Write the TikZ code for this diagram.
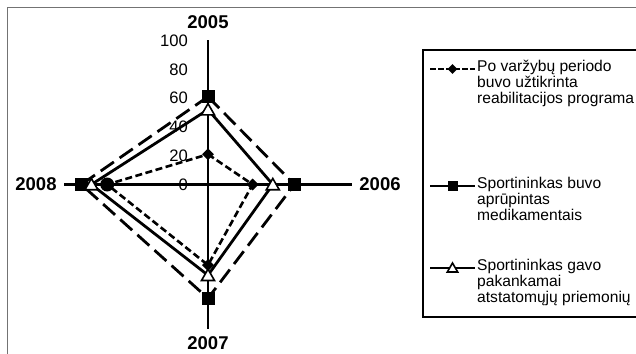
\documentclass[tikz,border=0pt]{standalone}
\usepackage{fontspec}
\setmainfont{Liberation Sans}
\usetikzlibrary{shapes.geometric,calc}
\colorlet{penColor}{black}
\colorlet{frameColor}{black!55}
\tikzset{
  axisline/.style={penColor,line width=2.5pt},
  seriesA/.style={penColor,line width=2.6pt,dash pattern=on 7pt off 3.5pt},
  seriesB/.style={penColor,line width=2.8pt,dash pattern=on 16pt off 7pt},
  seriesC/.style={penColor,line width=2.8pt},
  legline/.style={penColor,line width=2.6pt},
  dmark/.style={diamond,fill=penColor,inner sep=0pt,minimum size=#1},
  dmark/.default=12pt,
  cmark/.style={circle,fill=penColor,inner sep=0pt,minimum size=14pt},
  qmark/.style={rectangle,fill=penColor,inner sep=0pt,minimum size=#1},
  qmark/.default=13pt,
  tmark/.style={regular polygon,regular polygon sides=3,draw=penColor,fill=white,
    line width=1.6pt,inner sep=0pt,minimum size=#1},
  tmark/.default=15pt,
  ticklabel/.style={anchor=east,inner sep=0pt,font=\fontsize{16.6}{18}\selectfont},
  yearlabel/.style={inner sep=0pt,font=\fontsize{18.5}{20}\selectfont\bfseries},
  legendtext/.style={anchor=north west,inner sep=0pt,align=left,
    font=\fontsize{15.6}{16.4}\selectfont}
}
\begin{document}
\begin{tikzpicture}[x=1pt,y=-1pt]
    \clip (0,0) rectangle (636,353);
    % frame and legend box
    \draw[frameColor,line width=0.9pt] (7,7) rectangle (660,370);
    \draw[penColor,line width=1.8pt] (423,50) rectangle (660,317);

    % axes
    \coordinate (C) at (208,184.5);
    \coordinate (N) at (208,40.5);
    \coordinate (E) at (352,184.5);
    \coordinate (S) at (208,328.5);
    \coordinate (W) at (64,184.5);
    \draw[axisline] (N) -- (S);
    \draw[axisline] (W) -- (E);

    % tick labels
    \node[ticklabel] (t0) at (188,184.5) {0};
    \node[ticklabel] (t20) at (188,155.7) {20};
    \node[ticklabel] (t40) at (188,126.9) {40};
    \node[ticklabel] (t60) at (188,98.1) {60};
    \node[ticklabel] (t80) at (188,69.3) {80};
    \node[ticklabel] (t100) at (188,40.5) {100};

    % years
    \node[yearlabel] (y2005) at (208,22) {2005};
    \node[yearlabel] (y2006) at (380,184.5) {2006};
    \node[yearlabel] (y2007) at (208,343) {2007};
    \node[yearlabel] (y2008) at (36,184.5) {2008};

    % series points
    \coordinate (A1) at (208,154.3);
    \coordinate (A2) at (252.6,184.5);
    \coordinate (A3) at (208,265.1);
    \coordinate (A4) at (107.2,184.5);

    \coordinate (B1) at (208,96.7);
    \coordinate (B2) at (294.4,184.5);
    \coordinate (B3) at (208,298.3);
    \coordinate (B4) at (81.3,184.5);

    \coordinate (T1) at (208,109.6);
    \coordinate (T2) at (272.8,184.5);
    \coordinate (T3) at (208,275.2);
    \coordinate (T4) at (91.4,184.5);

    \draw[seriesB] (B1) -- (B2) -- (B3) -- (B4) -- cycle;
    \draw[seriesC] (T1) -- (T2) -- (T3) -- (T4) -- cycle;
    \draw[seriesA] (A1) -- (A2) -- (A3) -- (A4) -- cycle;

    \foreach \p in {B1,B2,B3,B4} \node[qmark] at (\p) {};
    \foreach \p in {T1,T2,T3,T4} \node[tmark,yshift=-1.5pt] at (\p) {};
    \foreach \p in {A1,A2,A3} \node[dmark] at (\p) {};
    \node[cmark] at (A4) {};

    % legend
    \coordinate (La1) at (430,69);
    \coordinate (La2) at (475,69);
    \coordinate (Lb1) at (430,186);
    \coordinate (Lb2) at (475,186);
    \coordinate (Lc1) at (430,268);
    \coordinate (Lc2) at (475,268);
    \draw[legline,dash pattern=on 5.5pt off 2.5pt] (La1) -- (La2);
    \draw[legline] (Lb1) -- (Lb2);
    \draw[legline] (Lc1) -- (Lc2);
    \node[dmark=10pt] at ($(La1)!.5!(La2)$) {};
    \node[qmark=10pt] at ($(Lb1)!.5!(Lb2)$) {};
    \node[tmark=12pt,yshift=-1pt] at ($(Lc1)!.5!(Lc2)$) {};

    \node[legendtext] (la) at (477,59.5) {Po varžybų periodo\\buvo užtikrinta\\reabilitacijos programa};
    \node[legendtext] (lb) at (477,176.5) {Sportininkas buvo\\aprūpintas\\medikamentais};
    \node[legendtext] (lc) at (477,258.5) {Sportininkas gavo\\pakankamai\\atstatomųjų priemonių};
\end{tikzpicture}
\end{document}
